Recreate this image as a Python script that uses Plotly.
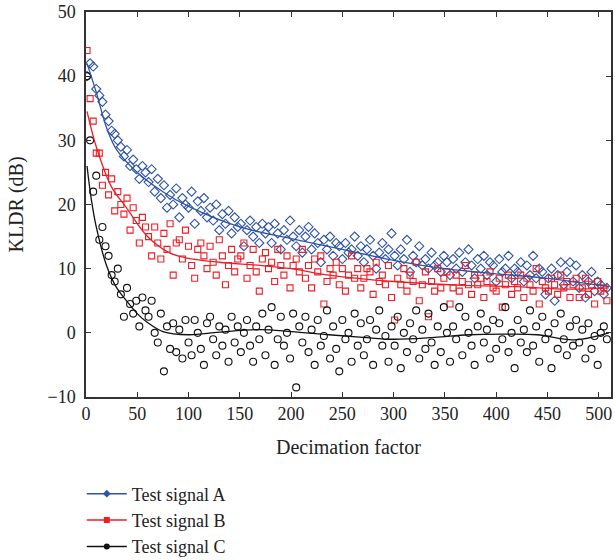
import plotly.graph_objects as go

# Decimation factors for the scatter samples (every 3rd factor)
x_pts = list(range(1, 511, 3))

kldr_a = [40, 42, 41.5, 38, 37, 36, 34, 33, 31.5, 31,
          30, 29, 27.5, 28.5, 26, 27, 25.5, 24, 26, 25,
          23.5, 25.5, 22, 24, 21, 23, 19.5, 21.5, 20, 22.5,
          18, 21, 20, 19.5, 22, 17, 20.5, 19, 21, 18,
          19.5, 17.5, 20, 16, 18.5, 17, 19, 15.5, 18, 16.5,
          17, 13.5, 16, 17.5, 15, 16.5, 14, 17, 15.5, 16.5,
          14, 17, 15.5, 13, 16, 14.5, 17.5, 15, 13.5, 16,
          12.5, 15, 16.5, 13, 15.5, 14, 11, 14.5, 13, 15,
          12, 14, 13.5, 11.5, 14, 12.5, 13, 15, 12, 13.5,
          11, 13, 14.5, 12, 10, 12.5, 14, 11.5, 13, 15.5,
          12, 10.5, 13, 11.5, 14.5, 9.5, 12, 11, 13.5, 10.5,
          11.5, 10, 12.5, 10.5, 11, 9.5, 12, 11, 9, 11.5,
          10, 12.5, 9.5, 11, 13, 10.5, 8.5, 11.5, 10, 12,
          9, 11, 10.5, 8, 11.5, 9.5, 10, 12, 8.5, 10,
          9.5, 11, 8, 10.5, 9, 12, 8.5, 10, 9.5, 6,
          8.5, 10, 5, 9, 11, 7.5, 9.5, 11, 8, 10.5,
          7, 9, 5.5, 8, 9.5, 6.5, 8, 7.5, 6, 7]

kldr_b = [44, 36.5, 33, 28, 28, 23, 25, 21.5, 24, 19,
          22, 20, 18.5, 21, 16, 19.5, 17.5, 14, 18, 16.5,
          15, 12, 16.5, 14, 11.5, 15.5, 13, 17, 9, 14,
          14.5, 11.5, 16, 13.5, 10.5, 8.5, 13, 14, 12, 10,
          13.5, 11, 9, 14.5, 12, 7.5, 10.5, 13, 9.5, 11.5,
          12, 14, 8.5, 10.5, 13, 9.5, 6.5, 11.5, 12.5, 10,
          11, 8, 13, 10.5, 9, 12, 7, 10.5, 11.5, 9.5,
          13, 8.5, 10.5, 7, 11.5, 9.5, 12, 4.5, 8, 10,
          9, 11, 7.5, 10, 6.5, 9, 12, 8.5, 10, 7,
          8.5, 10, 9.5, 6, 11, 8, 9, 7.5, 10.5, 5.5,
          2, 8.5, 7.5, 10, 6.5, 9, 8, 11, 5, 7.5,
          9.5, 2.5, 8, 6.5, 10, 7, 8.5, 9.5, 4.5, 7,
          9, 6.5, 8, 10.5, 7.5, 6, 9, 7.5, 8.5, 5.5,
          8, 9.5, 7, 6.5, 8.5, 4, 7.5, 9, 6, 8,
          7, 9, 5.5, 8.5, 7.5, 6.5, 10, 4.5, 8, 7,
          6.5, 8.5, 7.5, 6, 9, 7, 8, 5.5, 7.5, 8.5,
          5.5, 7, 8.5, 6, 7.5, 4.5, 8, 6.5, 7, 5]

kldr_c = [40, 30, 22, 24.5, 14.5, 16.5, 13.5, 12, 9, 8,
          10, 6, 2.5, 7, 4.5, 3, 5, 1, 5.5, 3.5,
          2.5, 5, 0, -1.5, 3, -6, 1, -2.5, 1.5, -3,
          0.5, -4, 2, -1.5, -3.5, 2, 0, -2.5, -5, 1.5,
          2.5, -1, -3.5, 1, -2, 0.5, -4.5, 2.5, -1.5, 1,
          -3, 0, 2, -2, -4.5, 1, -1, 3, -3.5, 0.5,
          4, -5, -1, 2.5, -2, 0, -4, 3, -8.5, 1,
          -1.5, 2.5, -3, 0.5, -5, 2, -2, -0.5, 3.5, -4,
          1, -2.5, -6, 2, -1, 0, -4.5, 3, -2, 1.5,
          -3.5, -1, 2, -5, 0.5, 3.5, -2, -0.5, -4.5, 1,
          -2, 2.5, -5.5, 0, -3, 1.5, -1, 3.5, -4, 0.5,
          -2.5, 3, -1.5, -5, 1, -3, 4, 0, -4.5, 1,
          -1, 4, -3.5, 2.5, 0, -2, -5, 1, 3, -1.5,
          0.5, -4, 2, -2.5, 1.5, -1, 4, -3, 0, -5.5,
          2, -1.5, 0.5, -3, 3.5, -2, 1, -4.5, 2.5, -1,
          0, -5.5, 1.5, -2.5, 3, -1, -3.5, 1, -2, 2,
          -1.5, 0.5, -4, 1.5, -2.5, -0.5, -5, 0, 1, -1]

# Fitted (smooth) curves, read at selected decimation factors
fit_a_x = [1, 10, 20, 30, 50, 75, 100, 150, 200, 250, 300, 350, 400, 450, 510]
fit_a_y = [42, 37.5, 32, 28.5, 25, 22, 19.7, 16.5, 14.7, 13, 11.3, 10, 9.2, 8.5, 7.2]

fit_b_x = [1, 10, 25, 39, 60, 81, 100, 130, 170, 200, 237, 300, 370, 420, 470, 510]
fit_b_y = [34.5, 29, 22.7, 19.6, 15, 12.5, 11.6, 11, 10.5, 10, 9, 8, 7.4, 7.2, 6.8, 7]

fit_c_x = [1, 5, 10, 20, 30, 39, 50, 60, 75, 100, 130, 170, 200, 237, 270, 300, 340, 373, 410, 440, 476, 510]
fit_c_y = [26, 21, 16.5, 10.5, 7, 5.1, 3, 1.6, 0.2, -0.3, 0.1, 0.5, 0.2, -0.3, -0.7, -1, -0.7, -0.3, -0.2, -0.3, -1.1, 0]

x_ticks = list(range(0, 501, 50))
y_ticks = list(range(-10, 51, 10))

names = ["Test signal A", "Test signal B", "Test signal C"]
colors = ["#2E54A6", "#EE1D25", "#111111"]
symbols = ["diamond-open", "square-open", "circle-open"]
sizes = [7, 6, 7]
legend_symbols = ["diamond", "square", "circle"]

fig = go.Figure()
series = [kldr_a, kldr_b, kldr_c]
fits = [(fit_a_x, fit_a_y), (fit_b_x, fit_b_y), (fit_c_x, fit_c_y)]

for i in range(3):
    fig.add_trace(go.Scatter(
        x=x_pts, y=series[i], mode="markers", showlegend=False,
        marker=dict(symbol=symbols[i], size=sizes[i], color=colors[i],
                    line=dict(width=1.1, color=colors[i])),
        hoverinfo="skip"))
for i in range(3):
    fx, fy = fits[i]
    fig.add_trace(go.Scatter(
        x=fx, y=fy, mode="lines", showlegend=False, line_shape="spline",
        line=dict(color=colors[i], width=1.3), hoverinfo="skip"))
for i in range(3):
    fig.add_trace(go.Scatter(
        x=[None], y=[None], mode="lines+markers", name=names[i],
        line=dict(color=colors[i], width=1.5),
        marker=dict(symbol=legend_symbols[i], size=6, color=colors[i])))

axis_common = dict(
    showline=True, linecolor="#333", linewidth=1.5, mirror="ticks",
    ticks="inside", ticklen=5, tickcolor="#333", tickwidth=1.2,
    showgrid=False, zeroline=False, automargin=False,
    tickfont=dict(family="Liberation Serif", size=18, color="#222"),
)

fig.update_xaxes(range=[0, 512], tickvals=x_ticks,
                 title=dict(text="Decimation factor", standoff=17,
                            font=dict(family="Liberation Serif", size=20, color="#222")),
                 **axis_common)
fig.update_yaxes(range=[-10, 50], tickvals=y_ticks,
                 ticklabelstandoff=5,
                 title=dict(text="KLDR (dB)", standoff=18,
                            font=dict(family="Liberation Serif", size=20, color="#222")),
                 **axis_common)

fig.update_layout(
    width=615, height=560,
    margin=dict(l=86, r=4, t=12, b=163, autoexpand=False),
    plot_bgcolor="white", paper_bgcolor="white",
    font=dict(family="Liberation Serif", color="#222"),
    legend=dict(x=-0.008, y=0.151, xanchor="left", yanchor="top",
                yref="container",
                font=dict(family="Liberation Serif", size=18, color="#222"),
                itemwidth=40, tracegroupgap=0, bgcolor="rgba(0,0,0,0)"),
)

fig.write_html("out.html", config={"displayModeBar": False},
               post_script="document.body.style.margin='0';")
